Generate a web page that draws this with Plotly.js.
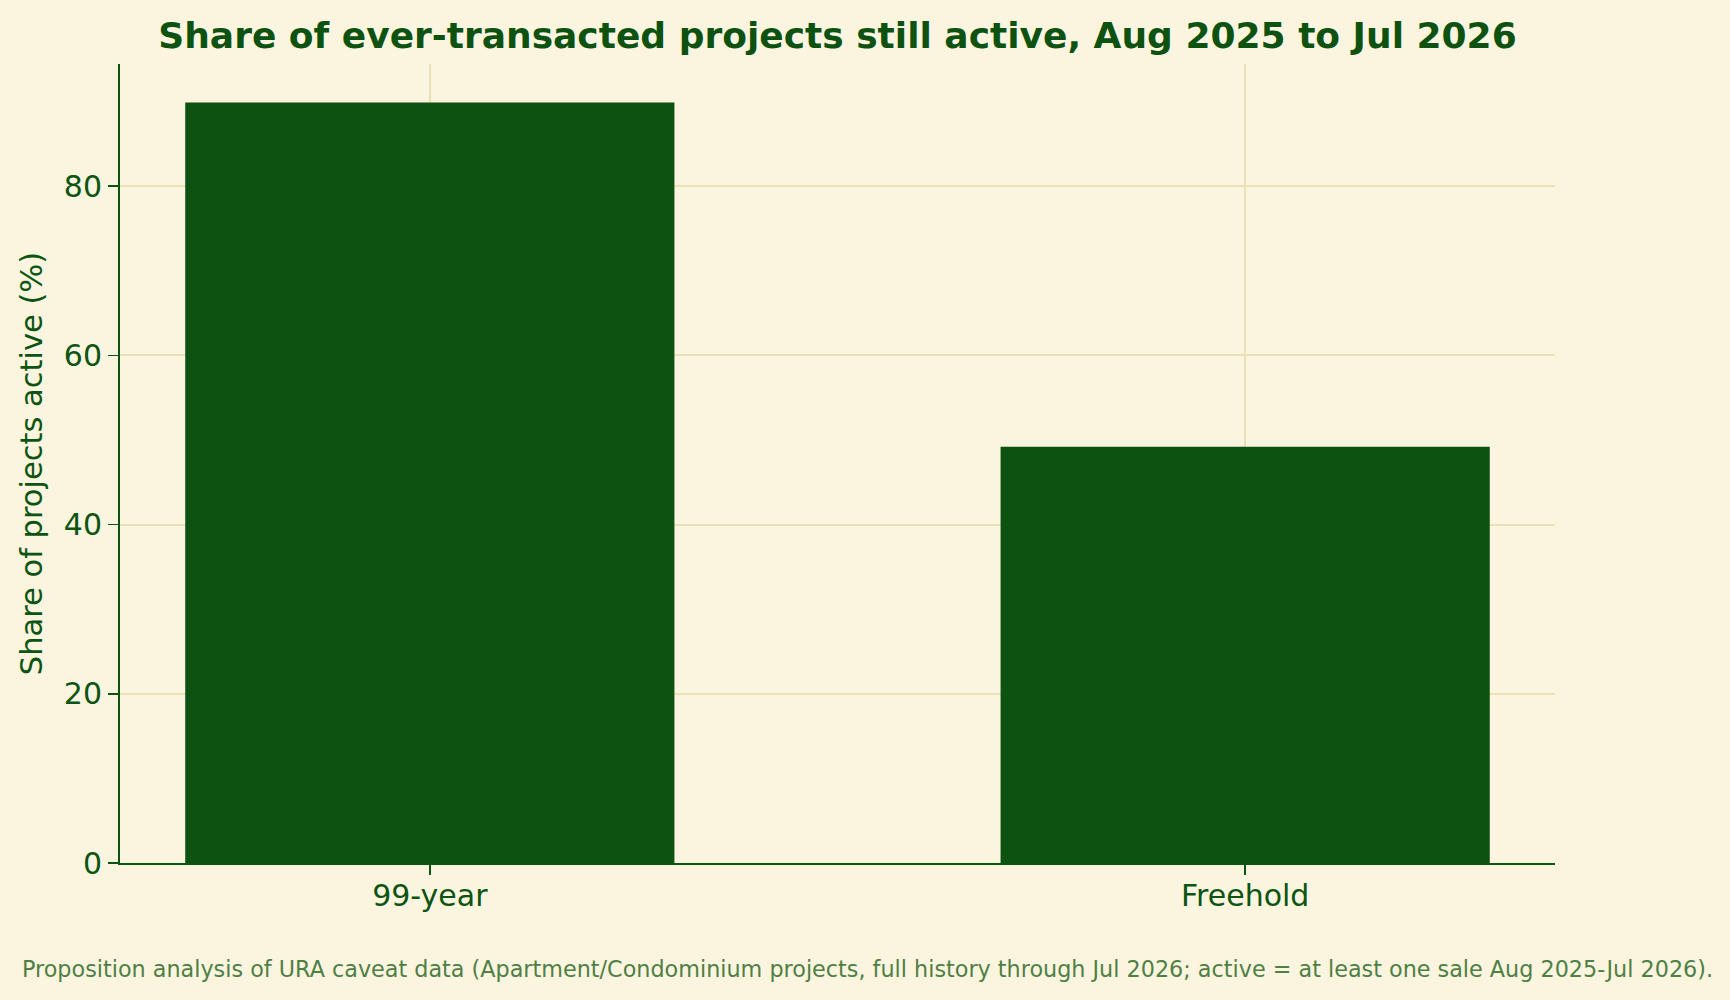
<!DOCTYPE html>
<html>
<head>
<meta charset="utf-8">
<script src="https://cdn.plot.ly/plotly-3.0.1.min.js"></script>
<style>
  html, body { margin: 0; padding: 0; background: #FBF5DF; }
  #chart { width: 1730px; height: 1000px; }
</style>
</head>
<body>
<div id="chart"></div>
<script>
// Share of ever-transacted projects still active, by tenure
const tenures      = ['99-year', 'Freehold'];
const shareActive  = [89.9, 49.2];
const yTicks       = [0, 20, 40, 60, 80];

const INK   = '#0C5411';
const BAR   = '#0D5210';
const GRID  = '#ECE1B4';
const PAPER = '#FBF5DF';
const FONT  = 'DejaVu Sans, sans-serif';

const trace = {
  type: 'bar',
  x: tenures,
  y: shareActive,
  width: 0.6,
  marker: { color: BAR, line: { width: 0 } },
  hoverinfo: 'x+y',
};

const layout = {
  width: 1730,
  height: 1000,
  paper_bgcolor: PAPER,
  plot_bgcolor: PAPER,
  margin: { l: 120, r: 175, t: 64, b: 137 },
  showlegend: false,
  font: { family: FONT, color: INK },
  title: {
    text: '<b>Share of ever-transacted projects still active, Aug 2025 to Jul 2026</b>',
    font: { family: FONT, size: 36, color: BAR },
    xref: 'paper', x: 0.5, xanchor: 'center',
    yref: 'container', y: 0.965, yanchor: 'middle',
  },
  xaxis: {
    type: 'category',
    range: [-0.38, 1.38],
    showline: true, linecolor: INK, linewidth: 2,
    ticks: 'outside', ticklen: 10, tickwidth: 1.5, tickcolor: INK,
    ticklabelstandoff: -5,
    showgrid: true, gridcolor: GRID, gridwidth: 2,
    tickfont: { family: FONT, size: 30, color: INK },
    zeroline: false,
    fixedrange: true,
  },
  yaxis: {
    range: [0, 94.45],
    tickvals: yTicks,
    showline: true, linecolor: INK, linewidth: 2,
    ticks: 'outside', ticklen: 10, tickwidth: 1.5, tickcolor: INK,
    showgrid: true, gridcolor: GRID, gridwidth: 2,
    tickfont: { family: FONT, size: 30, color: INK },
    zeroline: false,
    title: {
      text: 'Share of projects active (%)',
      font: { family: FONT, size: 30.5, color: INK },
      standoff: 12,
    },
    fixedrange: true,
  },
  annotations: [{
    text: 'Proposition analysis of URA caveat data (Apartment/Condominium projects, full history through Jul 2026; active = at least one sale Aug 2025-Jul 2026).',
    xref: 'paper', x: (20 - 120) / 1435, xanchor: 'left',
    yref: 'paper', y: (863 - 969) / 799, yanchor: 'middle',
    showarrow: false,
    font: { family: FONT, size: 22.3, color: '#4F7F45' },
  }],
  bargap: 0.4,
};

Plotly.newPlot('chart', [trace], layout, { displayModeBar: false, staticPlot: true });
</script>
</body>
</html>
